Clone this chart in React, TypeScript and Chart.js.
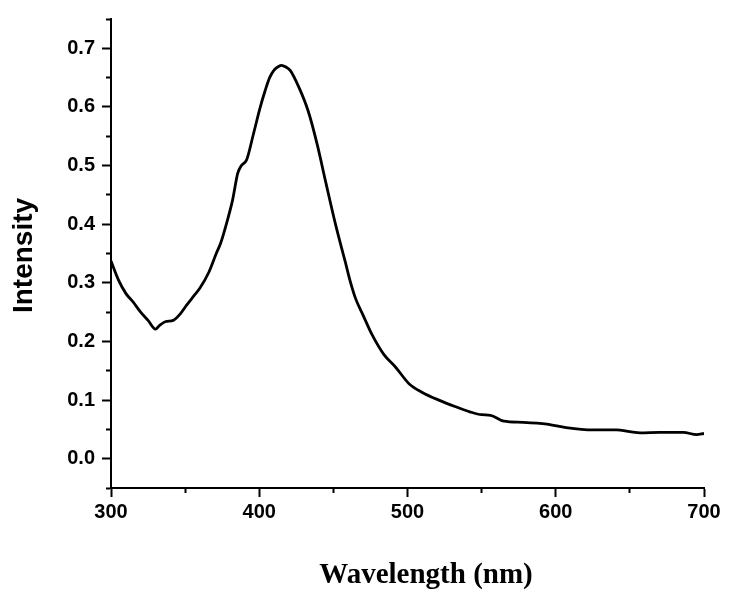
import React, { useEffect, useRef } from "react";
import { Chart, registerables } from "chart.js";

Chart.register(...registerables);

// Absorption spectrum
const wavelengths: number[] = [
  300, 305, 310, 315, 320, 325, 330, 333, 337, 342, 347, 351, 356, 360, 366,
  371, 374, 378, 382, 385.5, 388, 391.5, 396, 400.5, 404, 407, 410, 413, 415,
  418, 421, 427, 433, 439, 445, 452, 458, 461, 465, 470, 476, 484, 492, 501,
  510, 522, 532, 542, 550, 556, 565, 578, 594, 607, 625, 641, 650, 657, 670,
  686, 695, 700,
];
const intensity: number[] = [
  0.337, 0.305, 0.282, 0.267, 0.25, 0.236, 0.221, 0.228, 0.234, 0.236, 0.248,
  0.262, 0.278, 0.291, 0.318, 0.35, 0.368, 0.402, 0.441, 0.487, 0.5, 0.51,
  0.553, 0.598, 0.628, 0.65, 0.663, 0.669, 0.671, 0.668, 0.662, 0.632, 0.593,
  0.537, 0.47, 0.394, 0.336, 0.306, 0.273, 0.245, 0.212, 0.178, 0.156, 0.128,
  0.113, 0.099, 0.089, 0.08, 0.075, 0.074, 0.064, 0.062, 0.059, 0.053, 0.049,
  0.049, 0.046, 0.044, 0.045, 0.045, 0.041, 0.043,
];

const xMin = 300;
const xMax = 700;
const xStep = 50;
const yMin = -0.05;
const yMax = 0.75;
const yStep = 0.05;
const xTitle = "Wavelength (nm)";
const yTitle = "Intensity";

const W = 732;
const H = 601;

export default function App() {
  const ref = useRef<HTMLCanvasElement | null>(null);

  useEffect(() => {
    if (!ref.current) return;
    const isMajorX = (v: number) => Math.round(v) % 100 === 0;
    const isMajorY = (v: number) => Math.round(v * 100) % 10 === 0;

    const titlePlugin = {
      id: "axisTitles",
      afterDraw(chart: any) {
        const ctx = chart.ctx;
        ctx.save();
        ctx.fillStyle = "#000";
        ctx.font = "bold 29px 'Liberation Serif', 'Times New Roman', serif";
        ctx.textAlign = "center";
        ctx.textBaseline = "alphabetic";
        ctx.fillText(xTitle, 426, 583);
        ctx.translate(32, 255.5);
        ctx.rotate(-Math.PI / 2);
        ctx.font = "bold 28px 'Liberation Sans', Arial, sans-serif";
        ctx.fillText(yTitle, 0, 0);
        ctx.restore();
      },
    };

    const chart = new Chart(ref.current, {
      type: "line",
      data: {
        datasets: [
          {
            data: wavelengths.map((x, i) => ({ x, y: intensity[i] })),
            borderColor: "#000",
            borderWidth: 2.8,
            pointRadius: 0,
            fill: false,
            cubicInterpolationMode: "monotone",
          },
        ],
      },
      options: {
        responsive: false,
        animation: false,
        devicePixelRatio: 1,
        layout: { padding: { left: 0, top: 13, right: 28, bottom: 0 } },
        plugins: {
          legend: { display: false },
          tooltip: { enabled: false },
        },
        scales: {
          x: {
            type: "linear",
            min: xMin,
            max: xMax,
            afterFit: (s: any) => {
              s.height = H - 488;
            },
            ticks: {
              stepSize: xStep,
              autoSkip: false,
              maxRotation: 0,
              padding: 3,
              color: "#000",
              font: { family: "'Liberation Sans', Arial, sans-serif", size: 20, weight: "bold" },
              callback: (v: any) => (isMajorX(Number(v)) ? String(v) : ""),
            },
            grid: {
              drawOnChartArea: false,
              drawTicks: true,
              tickLength: 9,
              tickWidth: 2,
              tickColor: "#000",
              tickBorderDash: (c: any) =>
                c.tick && !isMajorX(c.tick.value) ? [4, 100] : [],
            },
            border: { display: true, color: "#000", width: 2 },
          },
          y: {
            type: "linear",
            min: yMin,
            max: yMax,
            afterFit: (s: any) => {
              s.width = 111;
            },
            ticks: {
              stepSize: yStep,
              autoSkip: false,
              padding: 7,
              color: "#000",
              font: { family: "'Liberation Sans', Arial, sans-serif", size: 20, weight: "bold" },
              callback: (v: any) => {
                const n = Number(v);
                return isMajorY(n) && n >= 0 && n <= 0.7 ? n.toFixed(1) : "";
              },
            },
            grid: {
              drawOnChartArea: false,
              drawTicks: true,
              tickLength: 9,
              tickWidth: 2,
              tickColor: "#000",
              tickBorderDash: (c: any) =>
                c.tick && !isMajorY(c.tick.value) ? [0, 4, 4, 100] : [],
            },
            border: { display: true, color: "#000", width: 2 },
          },
        },
      },
      plugins: [titlePlugin],
    } as any);

    return () => chart.destroy();
  }, []);

  return (
    <div
      style={{
        position: "fixed",
        left: 0,
        top: 0,
        width: W,
        height: H,
        background: "#fff",
      }}
    >
      <canvas ref={ref} width={W} height={H} style={{ display: "block" }} />
    </div>
  );
}
